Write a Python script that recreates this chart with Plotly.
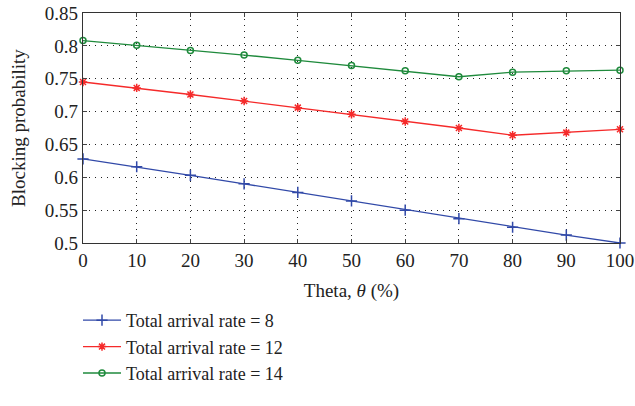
import plotly.graph_objects as go

theta = [0, 10, 20, 30, 40, 50, 60, 70, 80, 90, 100]
rate8 = [0.628, 0.616, 0.603, 0.590, 0.577, 0.564, 0.550, 0.537, 0.524, 0.512, 0.500]
rate12 = [0.745, 0.736, 0.726, 0.716, 0.706, 0.696, 0.685, 0.675, 0.664, 0.668, 0.673]
rate14 = [0.808, 0.801, 0.793, 0.786, 0.778, 0.770, 0.762, 0.753, 0.760, 0.762, 0.763]
names = ["Total arrival rate = 8", "Total arrival rate = 12", "Total arrival rate = 14"]
xticks = [0, 10, 20, 30, 40, 50, 60, 70, 80, 90, 100]
yticks = [0.5, 0.55, 0.6, 0.65, 0.7, 0.75, 0.8, 0.85]
ytext = ["0.5", "0.55", "0.6", "0.65", "0.7", "0.75", "0.8", "0.85"]

FONT = "Liberation Serif"
fig = go.Figure()
styles = [
    (rate8, "#3149a8", "cross-thin-open", 8),
    (rate12, "#f52a2a", "asterisk-open", 7),
    (rate14, "#1f8a3c", "circle-open", 6),
]
for (vals, col, sym, sz), nm in zip(styles, names):
    fig.add_trace(go.Scatter(
        x=theta, y=vals, name=nm, mode="lines+markers",
        line=dict(color=col, width=1.3),
        marker=dict(symbol=sym, size=sz, color=col, line=dict(color=col, width=1.5)),
        cliponaxis=False,
    ))

fig.update_layout(
    width=635, height=406,
    margin=dict(l=83, r=15, t=13, b=163, autoexpand=False),
    paper_bgcolor="white", plot_bgcolor="white",
    font=dict(family=FONT, size=19, color="#222"),
    showlegend=True,
    legend=dict(xref="container", yref="container", x=78/635, y=1 - 302/406,
                xanchor="left", yanchor="top",
                font=dict(family=FONT, size=18, color="#222"),
                bgcolor="rgba(0,0,0,0)", tracegroupgap=0, itemwidth=38),
    annotations=[dict(text="Blocking probability", xref="paper", yref="paper",
                      x=-(83 - 18) / 537, y=0.5, xanchor="center", yanchor="middle",
                      textangle=-90, showarrow=False,
                      font=dict(family=FONT, size=19, color="#222"))],
)
fig.update_xaxes(
    range=[0, 100], tickvals=xticks, ticks="inside", ticklen=4,
    showline=True, linecolor="#333", linewidth=1.2, mirror="allticks",
    showgrid=True, gridcolor="#222", griddash="1px,5px", gridwidth=1.2,
    zeroline=False, ticklabeloverflow="allow",
    title=dict(text="Theta, <i>θ</i> (%)", font=dict(family=FONT, size=19), standoff=13),
    tickfont=dict(family=FONT, size=19),
)
fig.update_yaxes(
    range=[0.5, 0.85], tickvals=yticks, ticktext=ytext, ticks="inside", ticklen=4,
    showline=True, linecolor="#333", linewidth=1.2, mirror="allticks",
    showgrid=True, gridcolor="#222", griddash="1px,5px", gridwidth=1.2,
    zeroline=False, ticklabeloverflow="allow",
    tickfont=dict(family=FONT, size=19),
)
fig.write_html("out.html", config={"displayModeBar": False},
               post_script="document.body.style.margin='0';")
